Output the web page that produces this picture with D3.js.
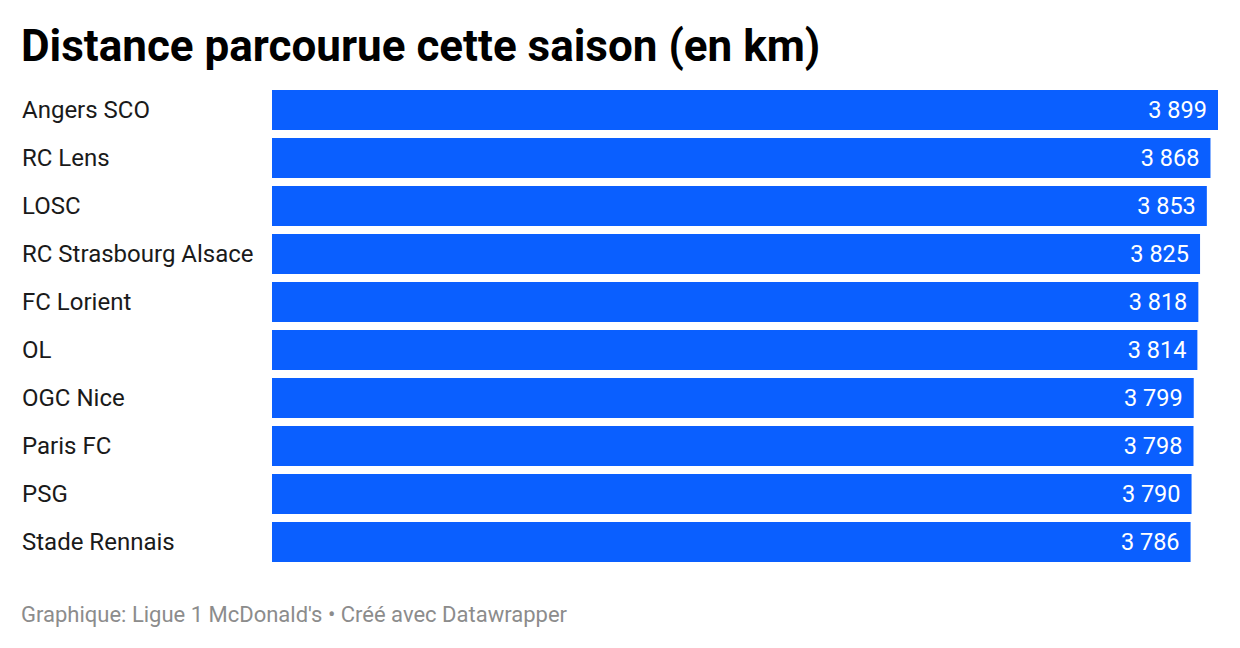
<!DOCTYPE html>
<html><head><meta charset="utf-8">
<script src="https://cdn.jsdelivr.net/npm/d3@7"></script>
<style>body{margin:0;background:#fff;} svg{display:block;font-family:Roboto, sans-serif;}</style>
</head><body>
<svg id="c" width="1240" height="648"></svg>
<script>
const teams = ["Angers SCO","RC Lens","LOSC","RC Strasbourg Alsace","FC Lorient","OL","OGC Nice","Paris FC","PSG","Stade Rennais"];
const distances = [3899,3868,3853,3825,3818,3814,3799,3798,3790,3786];
const titleText = "Distance parcourue cette saison (en km)";
const footerText = "Graphique: Ligue 1 McDonald's • Créé avec Datawrapper";

const svg = d3.select("#c");
const x = d3.scaleLinear().domain([0, 3899]).range([272, 1218]);
const y = d3.scaleBand().domain(teams).range([90, 562]).paddingInner(8/48).paddingOuter(0).align(0);
const fmt = v => d3.format(",")(v).replace(/,/g, " ");

svg.append("text").attr("x", 21).attr("y", 61).attr("font-size", 44).attr("font-weight", 700).attr("fill", "#000").text(titleText);

const g = svg.append("g");
g.selectAll("rect").data(teams).join("rect")
  .attr("x", x(0)).attr("y", d => y(d)).attr("width", (d,i) => x(distances[i]) - x(0)).attr("height", y.bandwidth())
  .attr("fill", "#0a5fff");
g.selectAll("text.lab").data(teams).join("text").attr("class","lab")
  .attr("x", 22).attr("y", d => y(d) + 28).attr("font-size", 24).attr("fill", "#1a1a1a").text(d => d);
g.selectAll("text.val").data(teams).join("text").attr("class","val")
  .attr("x", (d,i) => x(distances[i]) - 11).attr("y", d => y(d) + 28).attr("text-anchor","end")
  .attr("font-size", 23.5).attr("fill", "#fff").text((d,i) => fmt(distances[i]));

svg.append("text").attr("x", 21).attr("y", 622).attr("font-size", 22).attr("fill", "#8c8c8c").text(footerText);
</script>
</body></html>
